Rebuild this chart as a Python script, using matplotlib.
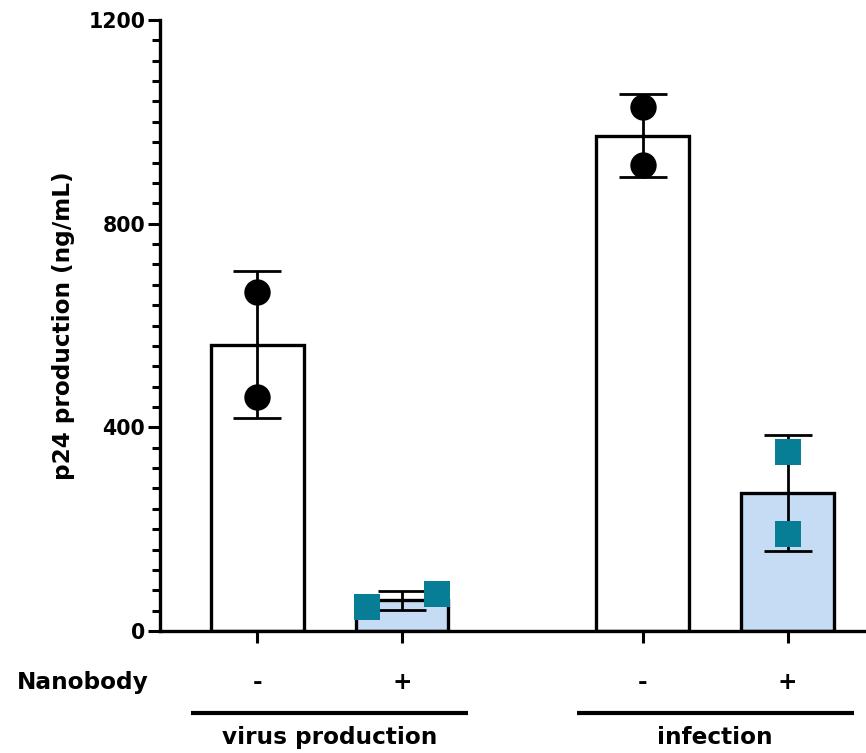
import numpy as np
import matplotlib.pyplot as plt
from matplotlib.ticker import MultipleLocator

plt.rcParams['font.family'] = ['DejaVu Sans']
plt.rcParams['font.weight'] = 'bold'

# data
groups = ['virus production', 'infection']
nanobody = ['-', '+', '-', '+']
replicates = [[665, 460], [47, 73], [1030, 915], [352, 190]]
jitter = [[0, 0], [-0.24, 0.24], [0, 0], [0, 0]]
yticks = [0, 400, 800, 1200]

means = [np.mean(r) for r in replicates]
sds = [np.std(r, ddof=1) for r in replicates]

xpos = np.array([0, 1, 2.66, 3.66])
bar_colors = ['white', '#c6dcf5', 'white', '#c6dcf5']
markers = ['o', 's', 'o', 's']
marker_colors = ['black', '#077e96', 'black', '#077e96']

fig = plt.figure(figsize=(8.66, 7.53), dpi=100)
ax = fig.add_axes([160 / 866, 1 - 631 / 753, 1 - 160 / 866, 611 / 753])

ax.bar(xpos, means, width=0.64, color=bar_colors, edgecolor='black', linewidth=2.4, zorder=2)
ax.errorbar(xpos, means, yerr=sds, fmt='none', ecolor='black', elinewidth=2, capsize=17,
            capthick=2, zorder=3)
for i in range(len(xpos)):
    ax.plot(xpos[i] + np.array(jitter[i]), replicates[i], linestyle='none', marker=markers[i],
            markersize=19, color=marker_colors[i], markeredgewidth=0, zorder=4)

ax.set_xlim(-0.67, 4.2)
ax.set_ylim(0, 1200)
ax.set_yticks(yticks)
ax.yaxis.set_minor_locator(MultipleLocator(40))
ax.set_xticks(xpos)
ax.set_xticklabels([])
ax.tick_params(axis='both', which='major', length=8.6, width=2.2, labelsize=14.8, pad=2)
ax.tick_params(axis='y', which='minor', length=5.5, width=2.2)
for s in ['top', 'right']:
    ax.spines[s].set_visible(False)
for s in ['left', 'bottom']:
    ax.spines[s].set_linewidth(2.4)
ax.set_ylabel('p24 production (ng/mL)', fontsize=16.7, fontweight='bold')
ax.yaxis.set_label_coords(-0.12, 0.5)

trans = ax.get_xaxis_transform()
for x, lab in zip(xpos, nanobody):
    ax.text(x, -0.085, lab, transform=trans, ha='center', va='center', fontsize=16.7,
            fontweight='bold')
ax.text(-0.75, -0.085, 'Nanobody', transform=trans, ha='right', va='center', fontsize=16.7,
        fontweight='bold')

for g, lab in enumerate(groups):
    xc = (xpos[2 * g] + xpos[2 * g + 1]) / 2
    ax.plot([xc - 0.955, xc + 0.955], [-0.134, -0.134], transform=trans, color='black',
            linewidth=3, clip_on=False, solid_capstyle='butt')
    ax.text(xc, -0.175, lab, transform=trans, ha='center', va='center',
            fontsize=16.7, fontweight='bold')

fig.savefig('out.png', dpi=100)
